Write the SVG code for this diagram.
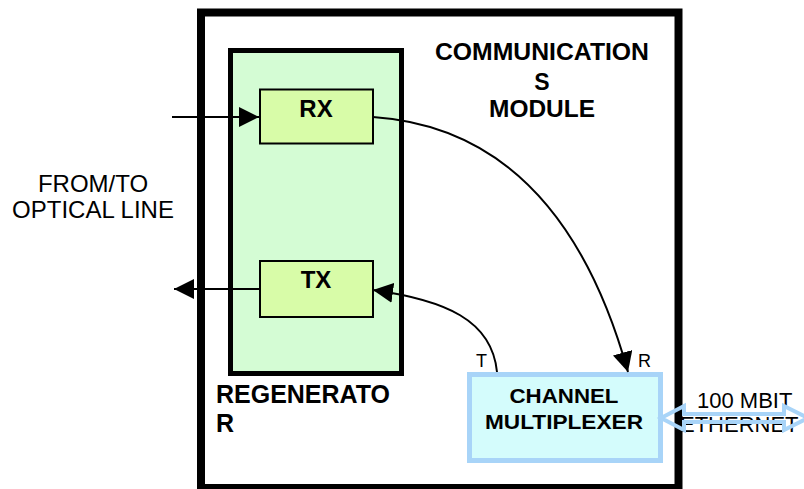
<svg xmlns="http://www.w3.org/2000/svg" width="804" height="489" viewBox="0 0 804 489">
<defs>
<style>
text{font-family:"Liberation Sans",Arial,sans-serif;fill:#000}
.b{font-weight:bold}
.conn{fill:none;stroke:#000;stroke-width:2}
</style>
<marker id="ah" viewBox="0 0 20 20" refX="20" refY="10" markerWidth="20" markerHeight="20" markerUnits="userSpaceOnUse" orient="auto">
<path d="M0,0 L20,10 L0,20 Z" fill="#000"/>
</marker>
</defs>
<rect width="804" height="489" fill="#fff"/>
<g id="module">
<rect x="201" y="12.5" width="477.5" height="475.5" fill="#fff" stroke="#000" stroke-width="8"/>
<text class="b" font-size="23" text-anchor="middle" x="542" y="60" textLength="214" lengthAdjust="spacingAndGlyphs">COMMUNICATION</text>
<text class="b" font-size="23" text-anchor="middle" x="542" y="90">S</text>
<text class="b" font-size="23" text-anchor="middle" x="542" y="117" textLength="106" lengthAdjust="spacingAndGlyphs">MODULE</text>
</g>
<g id="regenerator">
<rect x="230.5" y="50.5" width="171" height="323" fill="#d4fcd4" stroke="#000" stroke-width="5"/>
<text class="b" font-size="25" x="216" y="403" textLength="174" lengthAdjust="spacingAndGlyphs">REGENERATO</text>
<text class="b" font-size="25" x="216" y="432">R</text>
</g>
<g id="rx">
<rect x="260" y="89.5" width="113" height="54" fill="#d8fca8" stroke="#000" stroke-width="2"/>
<text class="b" font-size="24" text-anchor="middle" x="316" y="117">RX</text>
</g>
<g id="tx">
<rect x="260" y="261" width="113" height="56" fill="#d8fca8" stroke="#000" stroke-width="2"/>
<text class="b" font-size="24" text-anchor="middle" x="316" y="288">TX</text>
</g>
<g id="mux">
<rect x="469.5" y="374.5" width="191" height="86" fill="#d4fcfc" stroke="#a8d4f8" stroke-width="5"/>
<text class="b" font-size="21" text-anchor="middle" x="564" y="403" textLength="109" lengthAdjust="spacingAndGlyphs">CHANNEL</text>
<text class="b" font-size="21" text-anchor="middle" x="564" y="429" textLength="158" lengthAdjust="spacingAndGlyphs">MULTIPLEXER</text>
<text font-size="18" x="476" y="367">T</text>
<text font-size="18" x="638" y="367">R</text>
</g>
<g id="optical-label">
<text font-size="24" text-anchor="middle" x="93" y="192">FROM/TO</text>
<text font-size="24" text-anchor="middle" x="93" y="218">OPTICAL LINE</text>
</g>
<g id="ethernet">
<text font-size="22" x="697" y="408">100 MBIT</text>
<text font-size="22" x="680" y="432">ETHERNET</text>
</g>
<g id="connectors">
<path class="conn" d="M172,117 L259,117" marker-end="url(#ah)"/>
<path class="conn" d="M259,289 L174,289" marker-end="url(#ah)"/>
<path class="conn" d="M373,117 C490,125 580,200 628,372" marker-end="url(#ah)"/>
<path class="conn" d="M497,372 C492,320 445,300 373,290" marker-end="url(#ah)"/>
<path d="M661,418 L684,406 L684,414 L784,414 L784,406 L808,418 L784,430 L784,422 L684,422 L684,430 Z" fill="none" stroke="#a8d4f8" stroke-width="4" stroke-linejoin="miter"/>
</g>
</svg>
